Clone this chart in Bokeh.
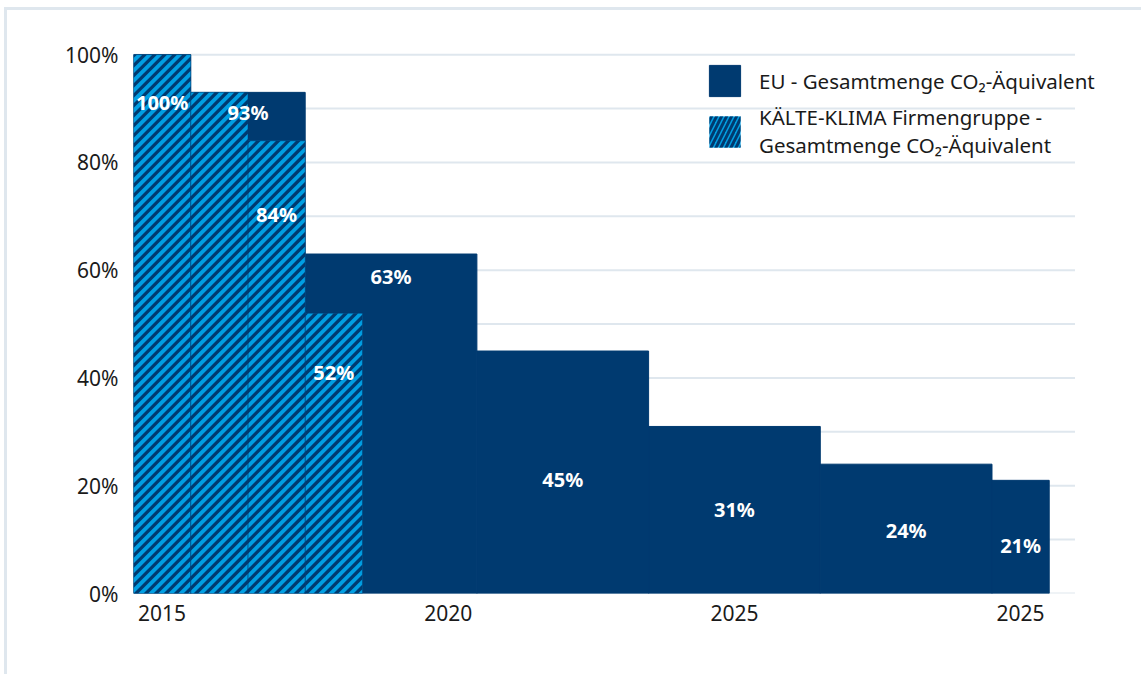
import math
from bokeh.plotting import figure
from bokeh.models import FixedTicker, Legend, LegendItem, ColumnDataSource
from bokeh.embed import file_html
from bokeh.resources import INLINE
from bokeh.core.properties import value

# ---------------- data ----------------
years = list(range(2015, 2031))
eu_share = [100, 93, 93, 63, 63, 63, 45, 45, 45, 31, 31, 31, 24, 24, 24, 21]
kk_years = [2015, 2016, 2017, 2018]
kk_share = [100, 93, 84, 52]

y_ticks = [0, 20, 40, 60, 80, 100]
y_tick_labels = ["0%", "20%", "40%", "60%", "80%", "100%"]
y_minor_ticks = [10, 30, 50, 70, 90]
x_ticks = [2015, 2020, 2025, 2030]
x_tick_labels = ["2015", "2020", "2025", "2025"]

eu_label = "EU - Gesamtmenge CO\u2082-\u00c4quivalent"
kk_label = "K\u00c4LTE-KLIMA Firmengruppe -\nGesamtmenge CO\u2082-\u00c4quivalent"

# label placement (vertical position as fraction of the bar value)
eu_label_frac = [0.96, 0.934, 0.47, 0.50, 0.49, 0.425]
kk_label_frac = [0.911, 0.837, 0.79]
kk_label_idx = [0, 2, 3]

# ---------------- styling ----------------
EU_COLOR = "#003a70"
KK_COLOR = "#009fe3"
GRID = "#dfe7ee"
FONT = "Noto Sans"
OFF_X, OFF_Y = 7, 10   # css border/margin offset of the figure
X0, X_GRID_END, X_END = 2014.5, 2030.95, 2031.92
Y_END = 100.4
FRAME_L, FRAME_R, FRAME_T, FRAME_B = 133, 1130, 52, 593   # page pixels
HATCH_PERIOD = 10.0   # px, horizontal period of the diagonal stripes
HATCH_DARK = 0.46     # share of the period that is dark

p = figure(width=1144 - OFF_X, height=677 - OFF_Y, output_backend="svg",
           toolbar_location=None,
           x_range=(X0, X_END), y_range=(0, Y_END))
p.styles = {"border-left": f"3px solid {GRID}", "border-top": f"3px solid {GRID}",
            "margin-left": "4px", "margin-top": "7px"}
p.min_border = 0
p.min_border_left = FRAME_L - OFF_X
p.min_border_right = 1144 - FRAME_R
p.min_border_top = FRAME_T - OFF_Y
p.min_border_bottom = 677 - FRAME_B
p.outline_line_color = None
p.background_fill_color = "white"
p.border_fill_color = "white"
p.xgrid.grid_line_color = None
p.ygrid.grid_line_color = None

# horizontal grid lines (every 10 %)
grid_levels = sorted(y_ticks + y_minor_ticks)
p.segment(x0=[X0] * len(grid_levels), x1=[X_GRID_END] * len(grid_levels),
          y0=grid_levels, y1=grid_levels, line_color=GRID, line_width=2)

# EU steps: one bar per run of equal values
runs = []
start = 0
for i in range(1, len(eu_share) + 1):
    if i == len(eu_share) or eu_share[i] != eu_share[start]:
        runs.append((start, i - 1, eu_share[start]))
        start = i
eu_src = ColumnDataSource(dict(
    x=[(years[s] + years[e]) / 2 for s, e, v in runs],
    w=[e - s + 1 for s, e, v in runs],
    top=[v for s, e, v in runs]))
kk_src = ColumnDataSource(dict(x=kk_years, top=kk_share))

eu_r = p.vbar(x="x", top="top", width="w", source=eu_src,
              fill_color=EU_COLOR, line_color=EU_COLOR, line_width=1)
kk_r = p.vbar(x="x", top="top", width=1.0, source=kk_src,
              fill_color=KK_COLOR, line_color=None)

# diagonal "/" stripes clipped to each KK bar (computed in pixel space)
sx = (FRAME_R - FRAME_L) / (X_END - X0)
sy = (FRAME_B - FRAME_T) / Y_END


def clip(poly, a, b, c):
    out = []
    n = len(poly)
    for i in range(n):
        P, Q = poly[i], poly[(i + 1) % n]
        fp = a * P[0] + b * P[1] + c
        fq = a * Q[0] + b * Q[1] + c
        if fp >= 0:
            out.append(P)
        if (fp >= 0) != (fq >= 0):
            t = fp / (fp - fq)
            out.append((P[0] + t * (Q[0] - P[0]), P[1] + t * (Q[1] - P[1])))
    return out


sxs, sys_ = [], []
for xc, top in zip(kk_years, kk_share):
    u0, u1 = (xc - 0.5 - X0) * sx, (xc + 0.5 - X0) * sx
    v0, v1 = 0.0, top * sy
    rect = [(u0, v0), (u1, v0), (u1, v1), (u0, v1)]
    k = math.floor((u0 - v1) / HATCH_PERIOD) - 1
    while k * HATCH_PERIOD <= u1 - v0:
        c0 = k * HATCH_PERIOD
        c1 = c0 + HATCH_PERIOD * HATCH_DARK
        poly = clip(rect, 1, -1, -c0)          # u - v >= c0
        poly = clip(poly, -1, 1, c1)           # u - v <= c1
        if len(poly) >= 3:
            sxs.append([u / sx + X0 for u, v in poly])
            sys_.append([v / sy for u, v in poly])
        k += 1
p.patches(xs=sxs, ys=sys_, fill_color=EU_COLOR, line_color=None)

# thin separators between KK bars
p.vbar(x="x", top="top", width=1.0, source=kk_src, fill_color=None,
       line_color=EU_COLOR, line_width=0.8, line_alpha=0.5)

# legend proxy for the hatched series (zero-height bar)
kk_leg_src = ColumnDataSource(dict(x=kk_years[:1], top=[0]))
kk_leg_r = p.vbar(x="x", top="top", width=0.0, source=kk_leg_src,
                  fill_color=KK_COLOR, line_color=None,
                  hatch_pattern="/", hatch_color=EU_COLOR, hatch_scale=10,
                  hatch_weight=3)

# labels
lx, ly, lt = [], [], []
for (s, e, v), f in zip(runs[1:], eu_label_frac):
    lx.append((years[s] + years[e]) / 2)
    ly.append(v * f)
    lt.append(f"{v}%")
for idx, f in zip(kk_label_idx, kk_label_frac):
    lx.append(kk_years[idx])
    ly.append(kk_share[idx] * f)
    lt.append(f"{kk_share[idx]}%")
lab_src = ColumnDataSource(dict(x=lx, y=ly, t=lt))
p.text(x="x", y="y", text="t", source=lab_src, text_color="white",
       text_font=value(FONT), text_font_style="bold", text_font_size="20px",
       text_align="center", text_baseline="middle")

# axes
for ax in (p.xaxis[0], p.yaxis[0]):
    ax.axis_line_color = None
    ax.major_tick_line_color = None
    ax.minor_tick_line_color = None
    ax.major_tick_out = 0
    ax.major_tick_in = 0
    ax.minor_tick_out = 0
    ax.minor_tick_in = 0
    ax.major_label_text_font = FONT
    ax.major_label_text_font_size = "21px"
    ax.major_label_text_color = "#1a1a1a"

p.yaxis.ticker = FixedTicker(ticks=y_ticks, minor_ticks=y_minor_ticks)
p.yaxis.major_label_overrides = dict(zip(y_ticks, y_tick_labels))
p.yaxis.major_label_standoff = 15
p.xaxis.ticker = FixedTicker(ticks=x_ticks)
p.xaxis.major_label_overrides = dict(zip(x_ticks, x_tick_labels))
p.xaxis.major_label_standoff = 11

# legends
common = dict(padding=0, margin=0, spacing=0, glyph_width=39, glyph_height=39,
              label_standoff=15, background_fill_alpha=0, border_line_alpha=0,
              label_text_font=FONT, label_text_font_size="20.5px",
              label_text_color="#1a1a1a")
leg1 = Legend(items=[LegendItem(label=eu_label, renderers=[eu_r])],
              location=(572, 493), **common)
leg2 = Legend(items=[LegendItem(label=kk_label, renderers=[kk_leg_r])],
              location=(572, 434), **common)
p.add_layout(leg1)
p.add_layout(leg2)

open("out.html", "w").write(file_html(p, INLINE))
